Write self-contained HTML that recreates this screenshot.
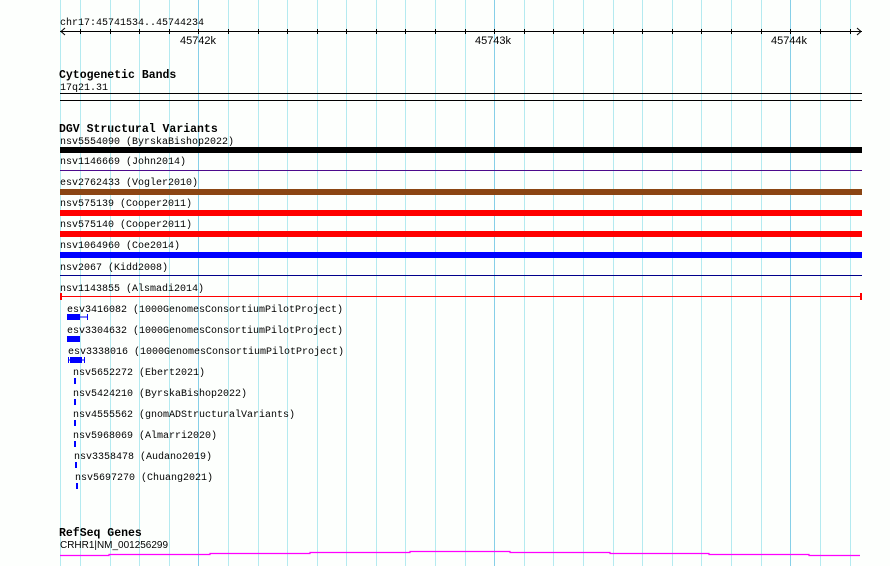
<!DOCTYPE html>
<html><head><meta charset="utf-8"><style>
html,body{margin:0;padding:0;background:#fdfffd;}
svg{display:block;}
.m{font-family:"Liberation Mono",monospace;font-size:10px;fill:#000;}
.t{font-family:"Liberation Mono",monospace;font-size:11.5px;font-weight:bold;fill:#000;}
.s{font-family:"Liberation Sans",sans-serif;font-size:11px;fill:#000;}
</style></head><body>
<svg width="890" height="566" viewBox="0 0 890 566" xmlns="http://www.w3.org/2000/svg">
<rect width="890" height="566" fill="#fdfffd"/>
<g stroke="#b4eaf0" stroke-width="1">
<line x1="60.5" y1="0" x2="60.5" y2="566"/>
<line x1="80.5" y1="0" x2="80.5" y2="566"/>
<line x1="110.5" y1="0" x2="110.5" y2="566"/>
<line x1="139.5" y1="0" x2="139.5" y2="566"/>
<line x1="169.5" y1="0" x2="169.5" y2="566"/>
<line x1="228.5" y1="0" x2="228.5" y2="566"/>
<line x1="258.5" y1="0" x2="258.5" y2="566"/>
<line x1="287.5" y1="0" x2="287.5" y2="566"/>
<line x1="317.5" y1="0" x2="317.5" y2="566"/>
<line x1="346.5" y1="0" x2="346.5" y2="566"/>
<line x1="376.5" y1="0" x2="376.5" y2="566"/>
<line x1="405.5" y1="0" x2="405.5" y2="566"/>
<line x1="435.5" y1="0" x2="435.5" y2="566"/>
<line x1="465.5" y1="0" x2="465.5" y2="566"/>
<line x1="524.5" y1="0" x2="524.5" y2="566"/>
<line x1="553.5" y1="0" x2="553.5" y2="566"/>
<line x1="583.5" y1="0" x2="583.5" y2="566"/>
<line x1="613.5" y1="0" x2="613.5" y2="566"/>
<line x1="642.5" y1="0" x2="642.5" y2="566"/>
<line x1="672.5" y1="0" x2="672.5" y2="566"/>
<line x1="701.5" y1="0" x2="701.5" y2="566"/>
<line x1="731.5" y1="0" x2="731.5" y2="566"/>
<line x1="761.5" y1="0" x2="761.5" y2="566"/>
<line x1="820.5" y1="0" x2="820.5" y2="566"/>
<line x1="850.5" y1="0" x2="850.5" y2="566"/>
</g>
<g stroke="#86cfe8" stroke-width="1">
<line x1="198.5" y1="0" x2="198.5" y2="566"/>
<line x1="494.5" y1="0" x2="494.5" y2="566"/>
<line x1="790.5" y1="0" x2="790.5" y2="566"/>
</g>
<!-- axis -->
<line x1="60" y1="31.5" x2="862" y2="31.5" stroke="#000" stroke-width="1"/>
<path stroke="#000" stroke-width="1" d="M80.5 29v5M110.5 29v5M139.5 29v5M169.5 29v5M198.5 29v5M228.5 29v5M258.5 29v5M287.5 29v5M317.5 29v5M346.5 29v5M376.5 29v5M405.5 29v5M435.5 29v5M465.5 29v5M494.5 29v5M524.5 29v5M553.5 29v5M583.5 29v5M613.5 29v5M642.5 29v5M672.5 29v5M701.5 29v5M731.5 29v5M761.5 29v5M790.5 29v5M820.5 29v5M850.5 29v5"/>
<polyline points="65,28 61,31.5 65,35" fill="none" stroke="#000"/>
<polyline points="857,28 861,31.5 857,35" fill="none" stroke="#000"/>
<text class="m" x="60" y="25">chr17:45741534..45744234</text>
<text class="s" x="198" y="44" text-anchor="middle">45742k</text>
<text class="s" x="493" y="44" text-anchor="middle">45743k</text>
<text class="s" x="789" y="44" text-anchor="middle">45744k</text>

<text class="t" x="59" y="78">Cytogenetic Bands</text>
<text class="m" x="60" y="90">17q21.31</text>
<line x1="60" y1="93.5" x2="862" y2="93.5" stroke="#000"/>
<line x1="60" y1="100.5" x2="862" y2="100.5" stroke="#000"/>

<text class="t" x="59" y="132">DGV Structural Variants</text>
<text class="m" x="60" y="144">nsv5554090 (ByrskaBishop2022)</text>
<rect x="60" y="147" width="802" height="6" fill="#000"/>
<text class="m" x="60" y="164">nsv1146669 (John2014)</text>
<line x1="60" y1="170.5" x2="862" y2="170.5" stroke="#4b0a8c"/>
<text class="m" x="60" y="185">esv2762433 (Vogler2010)</text>
<rect x="60" y="189" width="802" height="6" fill="#8b4513"/>
<text class="m" x="60" y="206">nsv575139 (Cooper2011)</text>
<rect x="60" y="210" width="802" height="6" fill="#ff0000"/>
<text class="m" x="60" y="227">nsv575140 (Cooper2011)</text>
<rect x="60" y="231" width="802" height="6" fill="#ff0000"/>
<text class="m" x="60" y="248">nsv1064960 (Coe2014)</text>
<rect x="60" y="252" width="802" height="6" fill="#0000ff"/>
<text class="m" x="60" y="270">nsv2067 (Kidd2008)</text>
<line x1="60" y1="275.5" x2="862" y2="275.5" stroke="#00008b"/>
<text class="m" x="60" y="291">nsv1143855 (Alsmadi2014)</text>
<line x1="60" y1="296.5" x2="862" y2="296.5" stroke="#ff0000"/>
<rect x="60" y="293" width="2" height="7" fill="#ff0000"/>
<rect x="860" y="293" width="2" height="7" fill="#ff0000"/>

<text class="m" x="67" y="312">esv3416082 (1000GenomesConsortiumPilotProject)</text>
<rect x="67" y="314" width="13" height="6" fill="#0000ff"/>
<line x1="67" y1="317" x2="88" y2="317" stroke="#0000ff"/>
<line x1="87.5" y1="314" x2="87.5" y2="320" stroke="#0000ff"/>
<line x1="67.5" y1="314" x2="67.5" y2="320" stroke="#0000ff"/>
<text class="m" x="67" y="333">esv3304632 (1000GenomesConsortiumPilotProject)</text>
<rect x="67" y="336" width="13" height="6" fill="#0000ff"/>
<text class="m" x="68" y="354">esv3338016 (1000GenomesConsortiumPilotProject)</text>
<rect x="70" y="357" width="12" height="6" fill="#0000ff"/>
<line x1="68" y1="360" x2="85" y2="360" stroke="#0000ff"/>
<line x1="68.5" y1="357" x2="68.5" y2="363" stroke="#0000ff"/>
<line x1="84.5" y1="357" x2="84.5" y2="363" stroke="#0000ff"/>
<text class="m" x="73" y="375">nsv5652272 (Ebert2021)</text>
<rect x="74" y="378" width="2" height="6" fill="#0000ff"/>
<text class="m" x="73" y="396">nsv5424210 (ByrskaBishop2022)</text>
<rect x="74" y="399" width="2" height="6" fill="#0000ff"/>
<text class="m" x="73" y="417">nsv4555562 (gnomADStructuralVariants)</text>
<rect x="74" y="420" width="2" height="6" fill="#0000ff"/>
<text class="m" x="73" y="438">nsv5968069 (Almarri2020)</text>
<rect x="74" y="441" width="2" height="6" fill="#0000ff"/>
<text class="m" x="74" y="459">nsv3358478 (Audano2019)</text>
<rect x="75" y="462" width="2" height="6" fill="#0000ff"/>
<text class="m" x="75" y="480">nsv5697270 (Chuang2021)</text>
<rect x="76" y="483" width="2" height="6" fill="#0000ff"/>

<text class="t" x="59" y="536">RefSeq Genes</text>
<text class="s" x="60" y="548" style="font-size:10px" textLength="108" lengthAdjust="spacingAndGlyphs">CRHR1|NM_001256299</text>
<polyline fill="none" stroke="#ff00ff" stroke-width="1.2" points="60,555.5 109,555.5 109,554.5 210,554.5 210,553.5 310,553.5 310,552.5 410,552.5 410,551.5 510,551.5 510,552.5 610,552.5 610,553.5 709,553.5 709,554.5 809,554.5 809,555.5 860,555.5"/>
</svg>
</body></html>
